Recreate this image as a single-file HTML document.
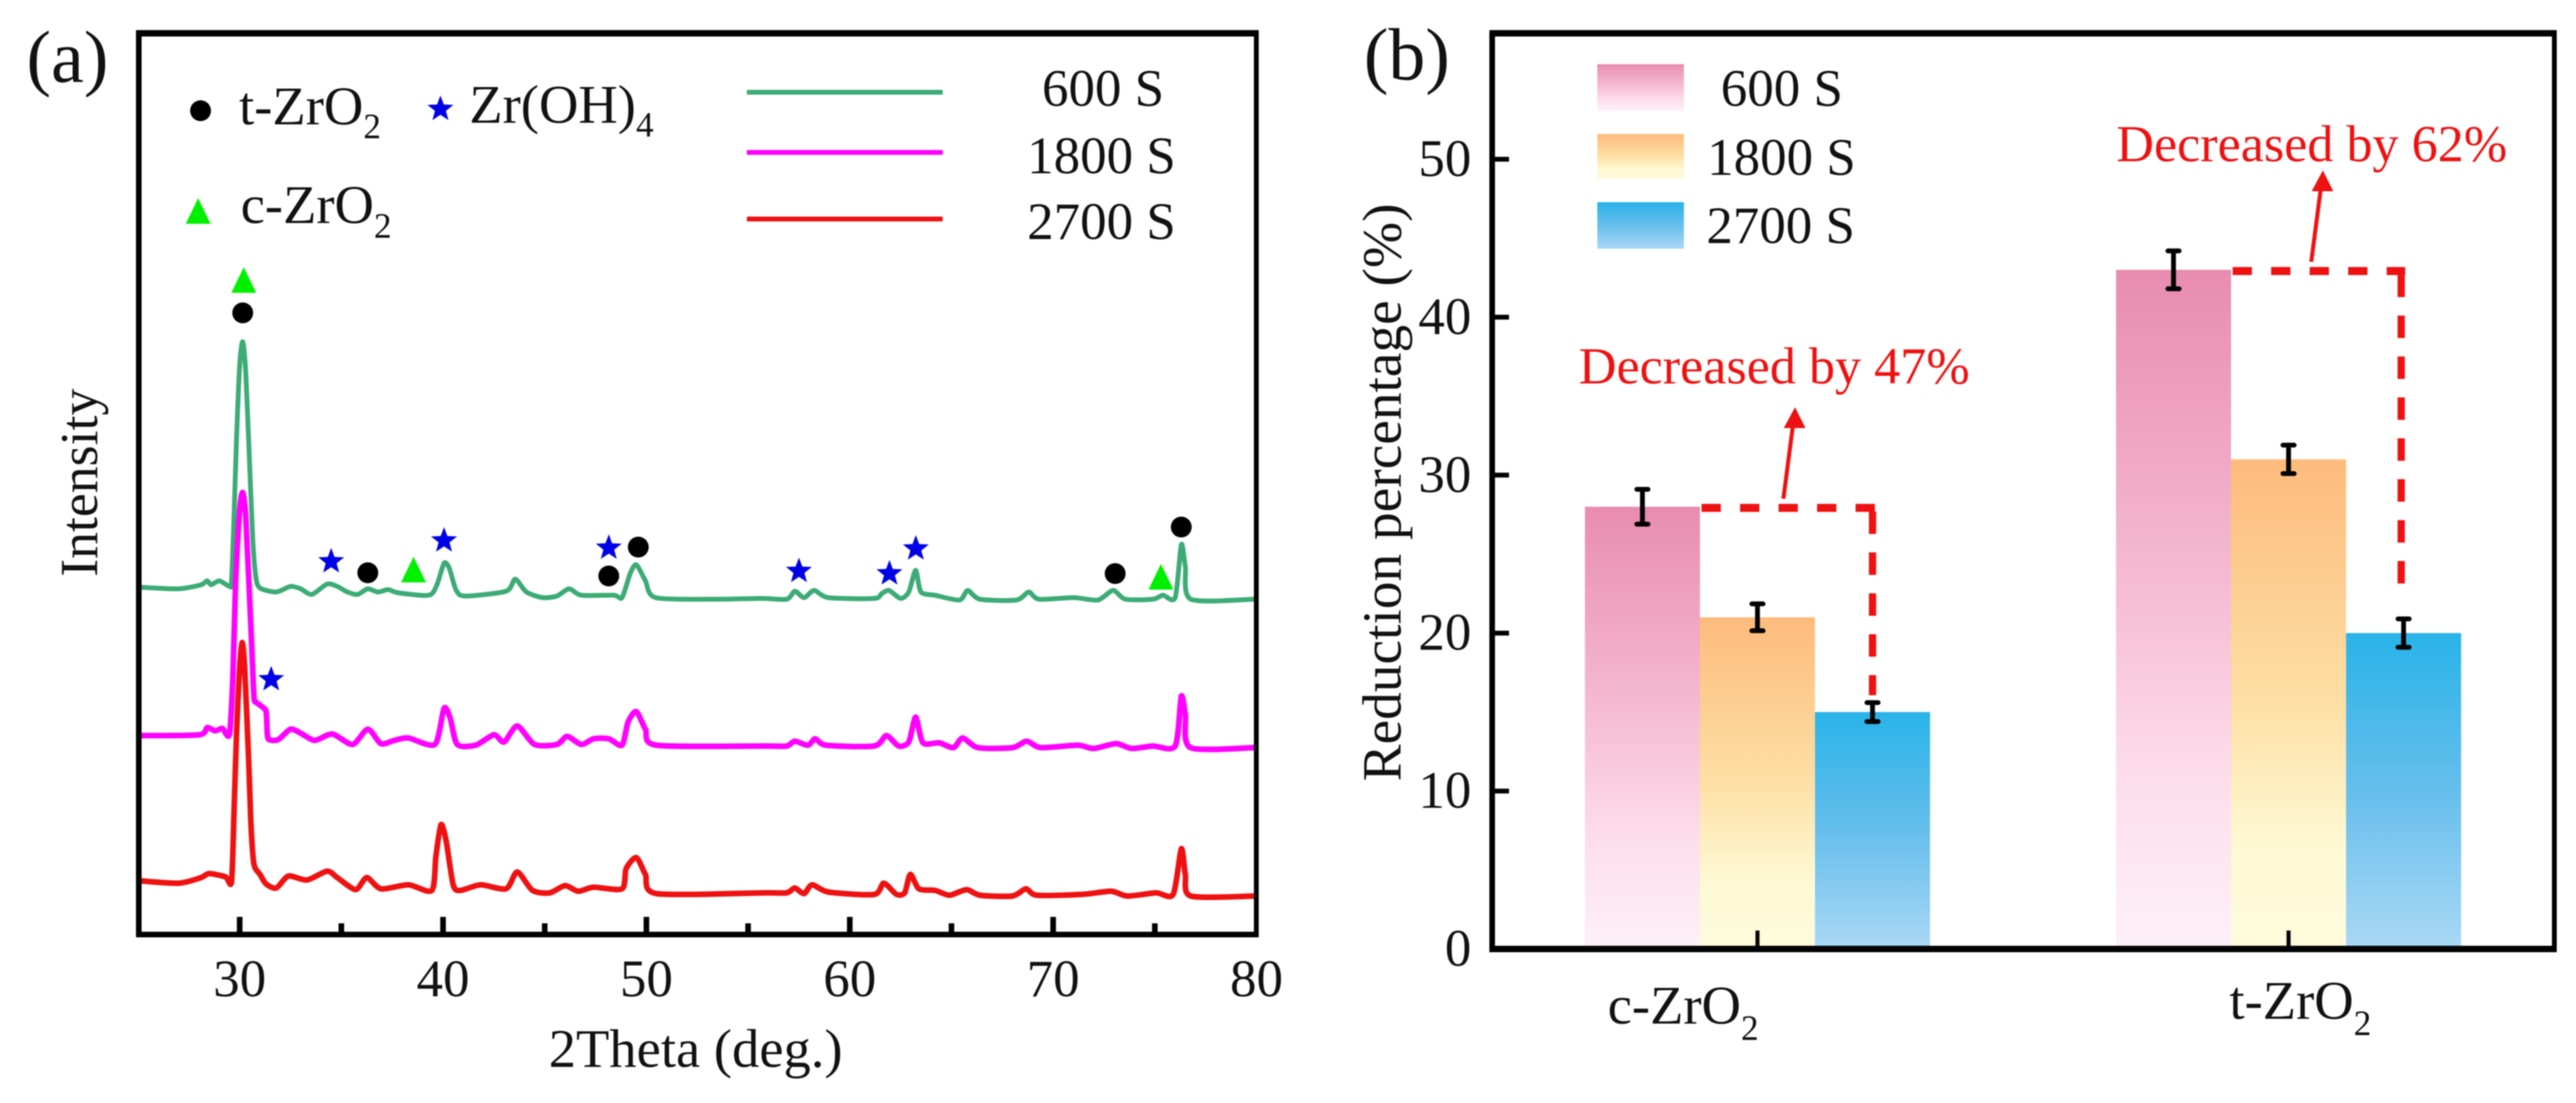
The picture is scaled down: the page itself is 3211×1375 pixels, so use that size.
<!DOCTYPE html>
<html lang="en">
<head>
<meta charset="utf-8">
<title>XRD patterns and reduction percentage</title>
<style>
html,body{margin:0;padding:0;background:#fff;width:3211px;height:1375px;overflow:hidden}
svg{display:block;filter:blur(.9px)}
text{font-family:"Liberation Serif",serif;fill:#111}
</style>
</head>
<body>
<svg id="fig" xmlns="http://www.w3.org/2000/svg" width="3211" height="1375" viewBox="0 0 3211 1375">
<defs>
<linearGradient id="grad-0" x1="0" y1="0" x2="0" y2="1"><stop offset="0" stop-color="#E88CAF"/><stop offset=".5" stop-color="#F6BFD5"/><stop offset=".75" stop-color="#FDDDEB"/><stop offset="1" stop-color="#FDF0F8"/></linearGradient>
<linearGradient id="grad-1" x1="0" y1="0" x2="0" y2="1"><stop offset="0" stop-color="#FDBB7C"/><stop offset=".5" stop-color="#FDDFA5"/><stop offset=".8" stop-color="#FEF9D5"/><stop offset="1" stop-color="#FEFBDC"/></linearGradient>
<linearGradient id="grad-2" x1="0" y1="0" x2="0" y2="1"><stop offset="0" stop-color="#29B3E8"/><stop offset=".5" stop-color="#66BEEC"/><stop offset="1" stop-color="#AAD8F5"/></linearGradient>
</defs>
<rect width="3211" height="1375" fill="#fff"/>
<g id="panel-a"></g>
<g id="panel-b"></g>

<text x="33" y="102" font-size="92">(a)</text>
<text x="1700" y="99" font-size="92">(b)</text>

<text x="684" y="1330" font-size="68">2Theta (deg.)</text>
<text transform="translate(121,719) rotate(-90)" font-size="67">Intensity</text>
<text transform="translate(1746,974) rotate(-90)" font-size="69">Reduction percentage (%)</text>

<text x="298" y="155" font-size="68">t-ZrO<tspan font-size="44" dy="17">2</tspan></text>
<text x="585" y="153" font-size="68">Zr(OH)<tspan font-size="44" dy="17">4</tspan></text>
<text x="300" y="278" font-size="68">c-ZrO<tspan font-size="44" dy="18">2</tspan></text>

<line x1="931" x2="1175" y1="115" y2="115" stroke="#3CAB75" stroke-width="6"/>
<line x1="931" x2="1175" y1="190" y2="190" stroke="#FF00FF" stroke-width="6"/>
<line x1="931" x2="1175" y1="273" y2="273" stroke="#EE1111" stroke-width="6"/>
<text x="1375" y="132" font-size="66" text-anchor="middle">600 S</text>
<text x="1373" y="216" font-size="66" text-anchor="middle">1800 S</text>
<text x="1373" y="298" font-size="66" text-anchor="middle">2700 S</text>

<rect x="1991" y="80" width="108" height="58" fill="url(#grad-0)"/>
<rect x="1991" y="167" width="108" height="56" fill="url(#grad-1)"/>
<rect x="1991" y="252" width="108" height="58" fill="url(#grad-2)"/>
<text x="2145" y="132" font-size="66">600 S</text>
<text x="2128" y="218" font-size="66">1800 S</text>
<text x="2127" y="303" font-size="66">2700 S</text>

<text x="2004" y="1276" font-size="68">c-ZrO<tspan font-size="44" dy="20">2</tspan></text>
<text x="2779" y="1270" font-size="68">t-ZrO<tspan font-size="44" dy="20">2</tspan></text>

<text x="1968" y="478" font-size="65" style="fill:#EE1111">Decreased by 47%</text>
<text x="2638" y="201" font-size="65" style="fill:#EE1111">Decreased by 62%</text>
</svg>
<script>
/* ---------- Panel (a): XRD patterns ---------- */
const theta600 = [25.1,27,28.1,28.4,28.6,29,29.5,29.6,29.72,29.85,30,30.15,30.3,30.5,30.65,30.8,31,31.8,32.5,33,33.55,34.3,34.8,35.3,35.8,36.3,36.8,37.3,37.8,39.3,39.7,40.05,40.3,40.65,41.1,43.1,43.55,44.1,44.9,45.6,46.2,46.8,48.4,48.8,49.2,49.5,49.95,50.45,53.4,55.7,56.9,57.3,57.75,58.25,58.95,61.2,61.57,61.93,62.5,62.9,63.24,63.5,64.2,65.4,65.8,66.4,68.2,68.8,69.3,71,72.2,72.95,73.55,74.9,75.4,76,76.3,76.5,76.77,79.9];
const intensity600 = [433,431,436,441,436,441,434,440,520,620,710,739,700,580,490,445,432,427,434,431,424,437,434,427,424,431,427,430,426,423,436,463,457,429,422,428,443,427,420,422,431,423,423,420,450,461,441,420,418,419,418,428,420,429,420,419,425,429,419,427,454,427,423,417,429,418,417,427,418,420,417,429,418,418,423,420,486,459,418,418];
const theta1800 = [25.1,28,28.4,28.8,29.15,29.5,29.68,29.8,30,30.15,30.3,30.55,30.7,30.8,31.1,31.3,31.36,31.45,31.9,32.5,33,33.7,34.55,35.55,36.3,36.95,37.6,38.3,39.6,40.05,40.35,40.7,41.6,42.5,43,43.65,44.5,45.6,46.1,46.8,47.4,48.15,48.8,49.1,49.5,49.95,50.5,55.9,56.9,57.3,57.95,58.3,58.85,61.2,61.8,62.4,62.9,63.24,63.6,64.4,65.1,65.55,66.3,68,68.7,69.4,71.2,72,73.1,73.85,74.9,76,76.3,76.5,76.75,79.9];
const intensity1800 = [248,249,258,254,257,250,330,440,530,551,520,385,298,290,284,278,250,243,243,256,251,242,250,237,256,238,242,245,237,282,270,237,236,249,240,260,237,237,247,237,244,244,236,265,278,256,236,235,235,241,236,244,236,235,248,235,240,271,239,239,233,245,233,233,241,233,236,232,238,232,235,235,297,274,233,233];
const theta2700 = [25.1,27,28.1,28.5,29.3,29.6,29.72,29.85,30,30.13,30.25,30.44,30.55,30.7,31,31.3,31.8,32.4,33.3,34.3,34.8,35.7,36.25,36.95,38.3,39.45,39.65,39.9,40.15,40.5,40.85,41.85,43.1,43.65,44.4,45.25,46,46.65,47.4,48.8,49,49.5,49.95,50.5,55.9,56.9,57.3,57.75,58.15,58.95,61.2,61.67,62.3,62.7,62.98,63.4,64.2,64.9,65.74,66.4,68,68.66,69.2,71.4,72.85,73.65,75.05,75.9,76.3,76.5,76.77,79.9];
const intensity2700 = [67,64,71,76,72,66,152,252,335,364,330,218,140,88,75,63,58,73,68,79,71,56,71,57,62,55,98,137,117,62,55,62,57,78,55,52,61,54,59,57,82,96,75,51,52,52,58,51,62,53,50,64,50,52,75,57,55,49,56,49,48,57,49,50,54,48,52,50,107,75,48,48];
const xTicksA = [30,35,40,45,50,55,60,65,70,75,80];
const xTickLabelsA = [30,40,50,60,70,80];
const starMarks = [[34.5,465],[40.05,491],[48.15,482],[57.5,453],[61.95,450],[63.25,481],[31.55,318]];
const dotMarks = [[30.15,775],[36.3,451],[49.6,483],[48.15,447],[73.05,450],[76.3,508]];
const triMarks = [[30.2,816],[38.55,455],[75.3,446]];

/* ---------- Panel (b): reduction bars ---------- */
const categories = ['c-ZrO2','t-ZrO2'];
const seriesNames = ['600s','1800s','2700s'];
const reduction600 = [28,43];
const reduction1800 = [21,31];
const reduction2700 = [15,20];
const error600 = [1.1,1.2];
const error1800 = [0.85,0.9];
const error2700 = [0.6,0.9];
const yTicksB = [0,10,20,30,40,50];

const NS = 'http://www.w3.org/2000/svg';
const panelA = document.getElementById('panel-a');
const panelB = document.getElementById('panel-b');
function make(parent, tag, attrs){
  const n = document.createElementNS(NS, tag);
  for (const k in attrs) n.setAttribute(k, attrs[k]);
  parent.appendChild(n);
  return n;
}
/* axis functions */
const xA = t => 172 + (t - 25) * 25.35;
const yA = v => 1165 - v * (1165 - 41) / 1124;
const yB = v => 1183 - v * 19.69;
const groupLeft = [1975.6, 2637.6];
const barW = 143.4;
const xBar = (c, s) => groupLeft[c] + s * barW;

/* traces, smoothed through the read points */
function drawTrace(thetas, values, color, width, name){
  const P = thetas.map((t, i) => [xA(t), yA(values[i])]);
  let d = 'M' + P[0][0].toFixed(1) + ' ' + P[0][1].toFixed(1);
  for (let i = 0; i < P.length - 1; i++){
    const a = P[Math.max(i - 1, 0)], b = P[i], c = P[i + 1], e = P[Math.min(i + 2, P.length - 1)];
    const f = 1 / 8;
    d += 'C' + (b[0] + (c[0] - a[0]) * f).toFixed(1) + ' ' + (b[1] + (c[1] - a[1]) * f).toFixed(1) + ' ' +
         (c[0] - (e[0] - b[0]) * f).toFixed(1) + ' ' + (c[1] - (e[1] - b[1]) * f).toFixed(1) + ' ' +
         c[0].toFixed(1) + ' ' + c[1].toFixed(1);
  }
  const p = make(panelA, 'path', {d: d, fill: 'none', stroke: color, 'stroke-width': width, 'stroke-linejoin': 'round'});
  
  
}
drawTrace(theta600, intensity600, '#3CAB75', 6, 'series-600s');
drawTrace(theta1800, intensity1800, '#FF00FF', 7, 'series-1800s');
drawTrace(theta2700, intensity2700, '#EE1111', 7, 'series-2700s');

/* marker shapes */
function starPoints(cx, cy, R){
  const pts = [];
  for (let i = 0; i < 10; i++){
    const r = i % 2 ? R * 0.42 : R;
    const a = -Math.PI / 2 + i * Math.PI / 5;
    pts.push((cx + r * Math.cos(a)).toFixed(1) + ',' + (cy + r * Math.sin(a)).toFixed(1));
  }
  return pts.join(' ');
}
function triPoints(cx, cy){
  return cx + ',' + (cy - 16) + ' ' + (cx - 15.5) + ',' + (cy + 16) + ' ' + (cx + 15.5) + ',' + (cy + 16);
}
starMarks.forEach(m => {
  const s = make(panelA, 'polygon', {points: starPoints(xA(m[0]), yA(m[1]), 17), fill: '#0000E6'});
  
  
});
dotMarks.forEach(m => {
  const c = make(panelA, 'circle', {cx: xA(m[0]), cy: yA(m[1]), r: 13, fill: '#000'});
  
  
});
triMarks.forEach(m => {
  const g = make(panelA, 'polygon', {points: triPoints(xA(m[0]), yA(m[1])), fill: '#00F000'});
  
  
});
/* legend markers */
const legendDot = make(panelA, 'circle', {cx: 250, cy: 138, r: 13, fill: '#000'});


const legendStar = make(panelA, 'polygon', {points: starPoints(549, 136, 17), fill: '#0000E6'});


const legendTri = make(panelA, 'polygon', {points: triPoints(247, 263), fill: '#00F000'});



/* panel a frame and ticks */
const frameA = make(panelA, 'g', {stroke: '#000', fill: 'none'});


make(frameA, 'line', {x1: 173, x2: 173, y1: 38, y2: 1168, 'stroke-width': 7});
make(frameA, 'line', {x1: 1566, x2: 1566, y1: 38, y2: 1168, 'stroke-width': 6});
make(frameA, 'line', {x1: 170, x2: 1569, y1: 41.5, y2: 41.5, 'stroke-width': 8});
make(frameA, 'line', {x1: 170, x2: 1569, y1: 1165, y2: 1165, 'stroke-width': 7});
xTicksA.forEach(t => {
  if (t === 80) return;
  const len = t % 10 === 0 ? 22 : 14;
  const k = make(panelA, 'line', {x1: xA(t), x2: xA(t), y1: 1165, y2: 1165 - len, stroke: '#000', 'stroke-width': 7});
  
  
});
xTickLabelsA.forEach(t => {
  const l = make(panelA, 'text', {x: xA(t), y: 1242, 'font-size': 66, 'text-anchor': 'middle'});
  l.textContent = t;
  
  
});

/* bars */
const reductionSeries = [reduction600, reduction1800, reduction2700];
const errorSeries = [error600, error1800, error2700];
categories.forEach((cat, c) => {
  reductionSeries.forEach((vals, s) => {
    const b = make(panelB, 'rect', {x: xBar(c, s), y: yB(vals[c]), width: barW, height: yB(0) - yB(vals[c]), fill: 'url(#grad-' + s + ')'});
    
    
  });
});

/* dashed brackets and arrows */
categories.forEach((cat, c) => {
  const x0 = xBar(c, 1);
  const x1 = xBar(c, 2) + barW / 2 - (c === 1 ? 3 : 0);
  const yTop = yB(reduction600[c]);
  const yEnd = yB(reduction2700[c]) - (c === 0 ? 21 : 42);
  const h = make(panelB, 'line', {x1: x0 + 2, x2: x1 + 5, y1: yTop + 1.5, y2: yTop + 1.5, stroke: '#EE1111', 'stroke-width': 10, 'stroke-dasharray': '24 24'});
  
  
  const v = make(panelB, 'line', {x1: x1, x2: x1, y1: yTop + 6, y2: yEnd, stroke: '#EE1111', 'stroke-width': 9, 'stroke-dasharray': '28 23'});
  
  
  const ax0 = x0 + (c === 0 ? 104 : 100);
  const ay0 = yTop - 10;
  const ax1 = ax0 + 14.5;
  const ay1 = ay0 - 114;
  const shaft = make(panelB, 'line', {x1: ax0, y1: ay0, x2: ax1 - 2.5, y2: ay1 + 22, stroke: '#EE1111', 'stroke-width': 5});
  
  
  const head = make(panelB, 'polygon', {points: ax1 + ',' + ay1 + ' ' + (ax1 - 14) + ',' + (ay1 + 26) + ' ' + (ax1 + 13) + ',' + (ay1 + 26), fill: '#EE1111'});
  
  
});

/* error bars */
categories.forEach((cat, c) => {
  reductionSeries.forEach((vals, s) => {
    const cx = xBar(c, s) + barW / 2;
    const top = yB(vals[c] + errorSeries[s][c]);
    const bot = yB(vals[c] - errorSeries[s][c]);
    const e = make(panelB, 'path', {d: 'M' + cx + ' ' + top + 'V' + bot + 'M' + (cx - 7) + ' ' + top + 'H' + (cx + 7) + 'M' + (cx - 7) + ' ' + bot + 'H' + (cx + 7), stroke: '#000', 'stroke-width': 6, 'stroke-linecap': 'round', fill: 'none'});
    
    
  });
});

/* panel b frame and ticks */
const frameB = make(panelB, 'g', {stroke: '#000', fill: 'none'});


make(frameB, 'line', {x1: 1860, x2: 1860, y1: 38, y2: 1187, 'stroke-width': 7});
make(frameB, 'line', {x1: 3184, x2: 3184, y1: 38, y2: 1187, 'stroke-width': 6});
make(frameB, 'line', {x1: 1857, x2: 3187, y1: 41.5, y2: 41.5, 'stroke-width': 8});
make(frameB, 'line', {x1: 1857, x2: 3187, y1: 1183, y2: 1183, 'stroke-width': 8});
yTicksB.forEach(v => {
  if (v !== 0){
    const k = make(panelB, 'line', {x1: 1860, x2: 1881, y1: yB(v), y2: yB(v), stroke: '#000', 'stroke-width': 6});
    
    
  }
  const l = make(panelB, 'text', {x: 1834, y: yB(v) + 21, 'font-size': 66, 'text-anchor': 'end'});
  l.textContent = v;
  
  
});
categories.forEach((cat, c) => {
  const tx = xBar(c, 1) + barW / 2;
  const k = make(panelB, 'line', {x1: tx, x2: tx, y1: 1183, y2: 1160, stroke: '#000', 'stroke-width': 5});
  
  
});
</script>
</body>
</html>
